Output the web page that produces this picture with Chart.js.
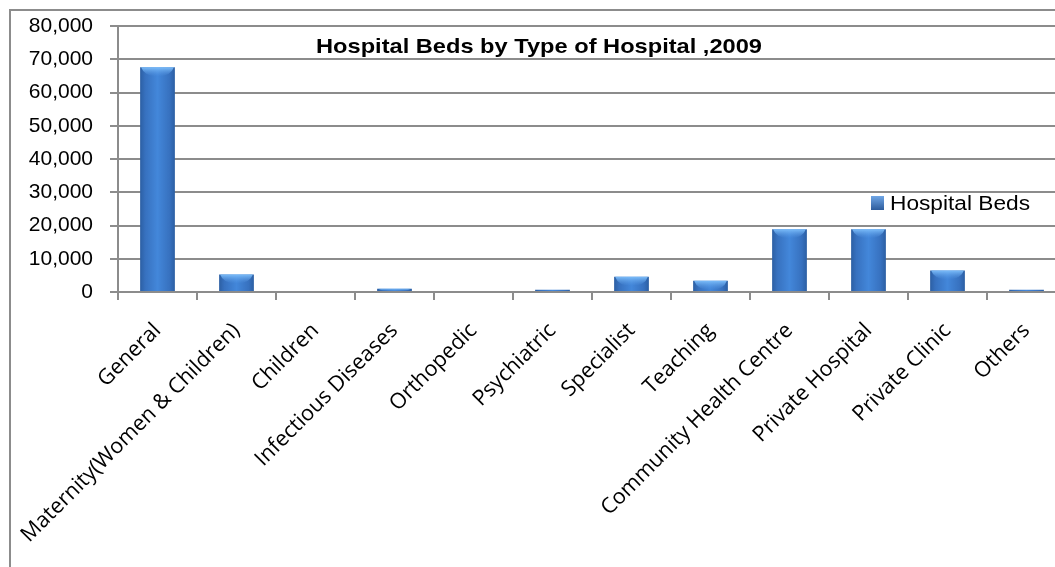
<!DOCTYPE html>
<html>
<head>
<meta charset="utf-8">
<script src="https://cdn.jsdelivr.net/npm/chart.js@4"></script>
<style>
    html, body { margin: 0; padding: 0; background: #fff; overflow: hidden; }
    .frame {
        position: absolute;
        left: 9px;
        top: 9px;
        width: 1084px;
        height: 604px;
        border: 2px solid #8c8c8c;
        box-sizing: border-box;
    }
    .frame canvas { position: absolute; left: 0; top: 0; }
</style>
</head>
<body>
<div class="frame">
    <canvas id="bedsChart" width="1080" height="600"></canvas>
</div>
<script>
// Data
const categories = [
    'General', 'Maternity(Women & Children)', 'Children', 'Infectious Diseases',
    'Orthopedic', 'Psychiatric', 'Specialist', 'Teaching',
    'Community Health Centre', 'Private Hospital', 'Private Clinic', 'Others'
];
const hospitalBeds = [67600, 5300, 0, 1000, 0, 700, 4600, 3400, 18900, 18900, 6500, 700];
const yTicks = [0, 10000, 20000, 30000, 40000, 50000, 60000, 70000, 80000];

const chartTitle = 'Hospital Beds by Type of Hospital ,2009';
const seriesName = 'Hospital Beds';

// Horizontal gradient per bar: darker edges, lighter middle
function barFill(c) {
    const chart = c.chart;
    const bar = chart.getDatasetMeta(0).data[c.dataIndex];
    if (!bar || !isFinite(bar.x) || !bar.width) return '#3a78c8';
    const half = bar.width / 2;
    const g = chart.ctx.createLinearGradient(bar.x - half, 0, bar.x + half, 0);
    g.addColorStop(0, '#2c5fa3');
    g.addColorStop(0.15, '#3771bf');
    g.addColorStop(0.5, '#4387da');
    g.addColorStop(0.85, '#3771bf');
    g.addColorStop(1, '#2c5fa3');
    return g;
}

// Light cap on the top of each column
const columnCaps = {
    id: 'columnCaps',
    afterDatasetsDraw(chart) {
        const ctx = chart.ctx;
        ctx.save();
        chart.getDatasetMeta(0).data.forEach(bar => {
            const h = bar.base - bar.y;
            if (h < 2) return;
            const half = bar.width / 2;
            const capH = Math.min(9, h);
            const g = ctx.createLinearGradient(0, bar.y, 0, bar.y + capH);
            g.addColorStop(0, 'rgba(125,190,250,1)');
            g.addColorStop(1, 'rgba(90,155,230,0)');
            ctx.fillStyle = g;
            ctx.beginPath();
            ctx.moveTo(bar.x - half + 1, bar.y);
            ctx.lineTo(bar.x + half - 1, bar.y);
            ctx.quadraticCurveTo(bar.x + half - 4, bar.y + capH, bar.x, bar.y + capH);
            ctx.quadraticCurveTo(bar.x - half + 4, bar.y + capH, bar.x - half + 1, bar.y);
            ctx.closePath();
            ctx.fill();
        });
        ctx.restore();
    }
};

// Title and legend sit inside the plot area in the reference
function fitText(ctx, text, x, y, width) {
    const w = ctx.measureText(text).width;
    ctx.save();
    ctx.translate(x, y);
    ctx.scale(width / w, 1);
    ctx.fillText(text, 0, 0);
    ctx.restore();
}

const overlayText = {
    id: 'overlayText',
    afterDraw(chart) {
        const ctx = chart.ctx;
        const area = chart.chartArea;
        ctx.save();
        ctx.fillStyle = '#000';
        ctx.font = 'bold 21px "Liberation Sans", Arial, sans-serif';
        ctx.textAlign = 'center';
        ctx.textBaseline = 'alphabetic';
        fitText(ctx, chartTitle, area.left + 421, area.top + 27, 446);

        // legend
        const lx = area.left + 753;
        const ly = area.top + 170;
        const g = ctx.createLinearGradient(0, ly, 0, ly + 14);
        g.addColorStop(0, '#6fa6e6');
        g.addColorStop(1, '#2d5c9c');
        ctx.fillStyle = g;
        ctx.fillRect(lx, ly, 13, 14);
        ctx.fillStyle = '#000';
        ctx.font = '20px "Liberation Sans", Arial, sans-serif';
        ctx.textAlign = 'left';
        ctx.textBaseline = 'middle';
        fitText(ctx, seriesName, lx + 19, ly + 8, 140);
        ctx.restore();
    }
};

const ctx = document.getElementById('bedsChart').getContext('2d');
const chart = new Chart(ctx, {
    type: 'bar',
    data: {
        labels: categories,
        datasets: [{
            label: seriesName,
            data: hospitalBeds,
            backgroundColor: barFill,
            borderWidth: 0,
            categoryPercentage: 1,
            barPercentage: 0.44
        }]
    },
    options: {
        responsive: false,
        animation: false,
        layout: { padding: { top: 15, right: 25, left: 0, bottom: 0 } },
        plugins: {
            legend: { display: false },
            title: { display: false },
            tooltip: { enabled: false }
        },
        scales: {
            x: {
                afterFit: scale => {
                    scale.height = 319;
                    scale.paddingTop = 0;
                    scale.paddingBottom = 0;
                },
                grid: {
                    offset: true,
                    drawOnChartArea: false,
                    drawTicks: true,
                    tickLength: 8,
                    color: '#8c8c8c',
                    lineWidth: 2
                },
                border: { color: '#8c8c8c', width: 2 },
                ticks: {
                    autoSkip: false,
                    maxRotation: 45,
                    minRotation: 45,
                    padding: 18,
                    color: '#000',
                    font: { family: '"Open Sans", sans-serif', size: 21.5 }
                }
            },
            y: {
                min: 0,
                max: 80000,
                afterFit: scale => {
                    scale.width = 107;
                    scale.paddingTop = 0;
                    scale.paddingBottom = 0;
                },
                afterBuildTicks: scale => {
                    scale.ticks = yTicks.map(v => ({ value: v }));
                },
                grid: {
                    color: '#8c8c8c',
                    lineWidth: 2,
                    tickLength: 8
                },
                border: { color: '#8c8c8c', width: 2 },
                ticks: {
                    padding: 17,
                    color: '#000',
                    font: { family: '"Liberation Sans", Arial, sans-serif', size: 21 },
                    callback: v => v.toLocaleString('en-US')
                }
            }
        }
    },
    plugins: [columnCaps, overlayText]
});
// second pass so the bar gradients see the laid-out bar positions
chart.update();
</script>
</body>
</html>
